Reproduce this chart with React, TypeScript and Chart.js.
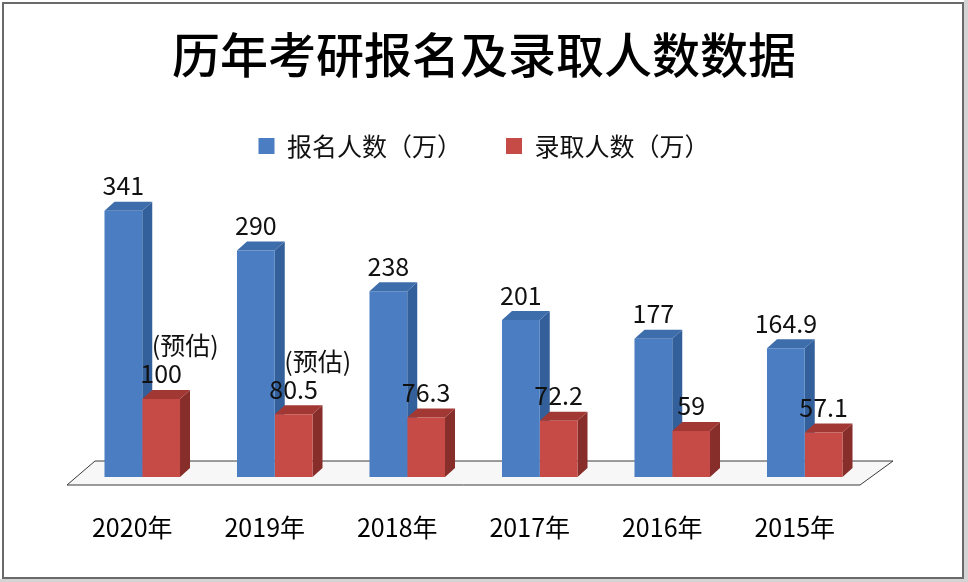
import { useEffect, useRef } from "react";
import { Chart, registerables } from "chart.js";

Chart.register(...registerables);

const TITLE = "历年考研报名及录取人数数据";
const categories = ["2020年", "2019年", "2018年", "2017年", "2016年", "2015年"];
const seriesNames = ["报名人数（万）", "录取人数（万）"];
const applicants = [341, 290, 238, 201, 177, 164.9];
const admitted = [100, 80.5, 76.3, 72.2, 59, 57.1];
const admittedNotes = ["(预估)", "(预估)", "", "", "", ""];

const FONT = '"Noto Sans CJK SC", "Noto Sans", sans-serif';
const DX = 10;
const DY = 9;
const FACES = [
  { front: "#4A7DC1", top: "#3E6DAB", side: "#33609A" },
  { front: "#C64B47", top: "#A23834", side: "#872D2A" },
];

const framePlugin = {
  id: "frame",
  beforeDraw(chart: any) {
    const { ctx, width, height } = chart;
    ctx.save();
    ctx.fillStyle = "#ffffff";
    ctx.fillRect(0, 0, width, height);
    ctx.fillStyle = "#d4d4d4";
    ctx.fillRect(width - 4, 0, 4, height);
    ctx.fillRect(0, height - 3, width, 3);
    ctx.strokeStyle = "#6a6a6a";
    ctx.lineWidth = 2;
    ctx.strokeRect(3, 3, 960, 575);
    ctx.restore();
  },
};

const depthPlugin = {
  id: "depth3d",
  beforeDatasetsDraw(chart: any) {
    const { ctx, chartArea, scales } = chart;
    const { left, right } = chartArea;
    const y0 = scales.y.getPixelForValue(0);
    ctx.save();
    // floor
    ctx.beginPath();
    ctx.moveTo(left - 9, y0 + 8);
    ctx.lineTo(right - 11, y0 + 8);
    ctx.lineTo(right + 22, y0 - 16);
    ctx.lineTo(left + 19, y0 - 16);
    ctx.closePath();
    ctx.fillStyle = "#f7f7f7";
    ctx.fill();
    ctx.strokeStyle = "#3a3a3a";
    ctx.lineWidth = 1;
    ctx.stroke();
    // side + top faces
    chart.data.datasets.forEach((_ds: any, i: number) => {
      const meta = chart.getDatasetMeta(i);
      const face = FACES[i];
      meta.data.forEach((bar: any) => {
        const { x, y, base, width } = bar.getProps(["x", "y", "base", "width"], true);
        const l = x - width / 2;
        const r = x + width / 2;
        ctx.beginPath();
        ctx.moveTo(r, y);
        ctx.lineTo(r + DX, y - DY);
        ctx.lineTo(r + DX, base - DY);
        ctx.lineTo(r, base);
        ctx.closePath();
        ctx.fillStyle = face.side;
        ctx.fill();
        ctx.beginPath();
        ctx.moveTo(l, y);
        ctx.lineTo(l + DX, y - DY);
        ctx.lineTo(r + DX, y - DY);
        ctx.lineTo(r, y);
        ctx.closePath();
        ctx.fillStyle = face.top;
        ctx.fill();
      });
    });
    ctx.restore();
  },
};

const labelPlugin = {
  id: "valueLabels",
  afterDatasetsDraw(chart: any) {
    const { ctx } = chart;
    ctx.save();
    ctx.font = `25px ${FONT}`;
    ctx.textAlign = "center";
    ctx.textBaseline = "middle";
    ctx.fillStyle = "#111111";
    chart.data.datasets.forEach((ds: any, i: number) => {
      const meta = chart.getDatasetMeta(i);
      meta.data.forEach((bar: any, j: number) => {
        const { x, y } = bar.getProps(["x", "y"], true);
        ctx.fillText(String(ds.data[j]), x, y - 25);
        if (i === 1 && admittedNotes[j]) {
          ctx.fillText(admittedNotes[j], x + 24, y - 53);
        }
      });
    });
    ctx.restore();
  },
};

export default function App() {
  const ref = useRef<HTMLCanvasElement | null>(null);
  useEffect(() => {
    if (!ref.current) return;
    const chart = new Chart(ref.current, {
      type: "bar",
      data: {
        labels: categories,
        datasets: [
          {
            label: seriesNames[0],
            data: applicants,
            backgroundColor: FACES[0].front,
            borderWidth: 0,
            categoryPercentage: 0.57,
            barPercentage: 1,
          },
          {
            label: seriesNames[1],
            data: admitted,
            backgroundColor: FACES[1].front,
            borderWidth: 0,
            categoryPercentage: 0.57,
            barPercentage: 1,
          },
        ],
      },
      options: {
        animation: false,
        responsive: false,
        maintainAspectRatio: false,
        layout: { padding: 0 },
        plugins: {
          title: {
            display: true,
            text: TITLE,
            color: "#000000",
            font: { family: FONT, size: 48, weight: "500" as any },
            padding: { top: 26, bottom: 6 },
          },
          legend: {
            display: true,
            labels: {
              boxWidth: 16,
              boxHeight: 16,
              padding: 44,
              color: "#111111",
              font: { family: FONT, size: 25 },
            },
          },
          tooltip: { enabled: false },
        },
        scales: {
          x: {
            grid: { display: false, drawTicks: false },
            border: { display: false },
            ticks: {
              padding: 35,
              color: "#000000",
              font: { family: FONT, size: 25 },
              labelOffset: -10,
            },
            afterFit(s: any) {
              s.height = 105;
            },
          },
          y: {
            min: 0,
            max: 395,
            grid: { display: false, drawTicks: false },
            border: { display: false },
            ticks: { display: false },
            afterFit(s: any) {
              s.width = 76;
            },
          },
          yRight: {
            type: "linear",
            position: "right",
            grid: { display: false, drawTicks: false },
            border: { display: false },
            ticks: { display: false },
            afterFit(s: any) {
              s.width = 97;
            },
          },
        },
      } as any,
      plugins: [framePlugin, depthPlugin, labelPlugin],
    });
    return () => chart.destroy();
  }, []);
  return (
    <div style={{ position: "absolute", left: 0, top: 0, width: 968, height: 582 }}>
      <canvas ref={ref} width={968} height={582} style={{ display: "block", width: 968, height: 582 }} />
    </div>
  );
}
